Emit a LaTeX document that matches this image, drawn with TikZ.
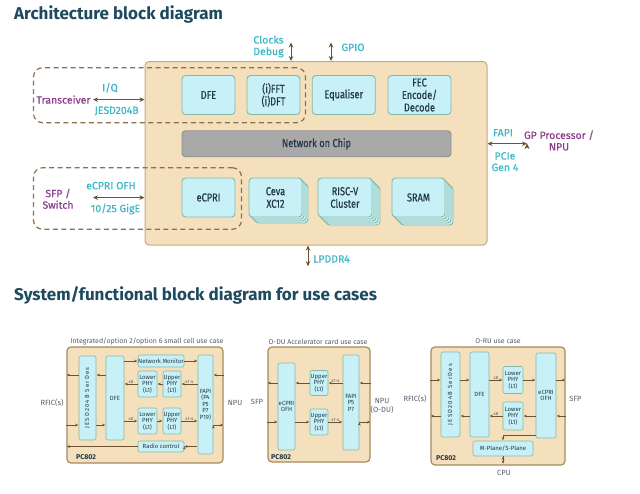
\documentclass[tikz,border=0pt]{standalone}
\usepackage{fontspec}
\setmainfont{Fira Sans}
\newfontfamily\condfont{Fira Sans}[FakeStretch=0.8,FakeBold=0.6]
\newfontfamily\labfont{Fira Sans}[FakeBold=0.5]
\newfontfamily\spacedfont{Fira Sans}[LetterSpace=20]
\usetikzlibrary{arrows.meta}
\usetikzlibrary{calc}
\usetikzlibrary{positioning}

\definecolor{titlec}{HTML}{1E4A5F}
\definecolor{tanfill}{HTML}{F4E0BD}
\definecolor{tandraw}{HTML}{C4AA80}
\definecolor{casedraw}{HTML}{A68A5E}
\definecolor{cyfill}{HTML}{C7F1F6}
\definecolor{cydraw}{HTML}{86B8A4}
\definecolor{labcyan}{HTML}{3DB7C8}
\definecolor{labpurp}{HTML}{8A3E8E}
\definecolor{arrc}{HTML}{6B5232}
\definecolor{dashc}{HTML}{8C7048}
\definecolor{nocfill}{HTML}{A9A9A9}
\definecolor{nocdraw}{HTML}{8E8E8E}
\definecolor{boxtxt}{HTML}{23384A}
\definecolor{greytxt}{HTML}{55606A}

\begin{document}
\begin{tikzpicture}[x=1pt,y=-1pt,>={Stealth[length=5pt,width=4.5pt]}]
\tikzstyle{chipbox}=[draw=tandraw,fill=tanfill,rounded corners=4pt,line width=1pt,inner sep=0pt]
\tikzstyle{grp}=[draw=dashc,dash pattern=on 5pt off 3.5pt,rounded corners=9pt,line width=1.2pt,inner sep=0pt]
\tikzstyle{blk}=[draw=cydraw,fill=cyfill,rounded corners=3.5pt,line width=0.9pt,inner sep=0pt,align=center,text=boxtxt,font=\condfont\fontsize{11.5}{12.5}\selectfont]
\tikzstyle{nocbox}=[blk,draw=nocdraw,fill=nocfill]
\tikzstyle{cyanlab}=[text=labcyan,align=center,inner sep=0pt,font=\labfont\fontsize{10.5}{11.5}\selectfont]
\tikzstyle{purplab}=[cyanlab,text=labpurp]
\tikzstyle{io}=[<->,draw=arrc,line width=1pt]
\tikzstyle{heading}=[anchor=base west,inner sep=0pt,text=titlec,font=\bfseries\fontsize{17}{20}\selectfont]
\tikzstyle{casebox}=[draw=casedraw,fill=tanfill,rounded corners=4pt,line width=1.2pt,inner sep=0pt]
\tikzstyle{sblk}=[blk,rounded corners=2pt,line width=0.6pt,font=\fontsize{6}{6.5}\selectfont]
\tikzstyle{sa}=[-{Stealth[length=3pt,width=2.6pt]},draw=arrc,line width=0.6pt,shorten >=0.5pt]
\tikzstyle{slab}=[text=greytxt,align=center,inner sep=0pt,font=\fontsize{7.5}{9.5}\selectfont]
\tikzstyle{caplab}=[slab,font=\fontsize{7}{9}\selectfont]
\tikzstyle{mult}=[text=greytxt,inner sep=0.6pt,font=\fontsize{4.5}{5}\selectfont]
\tikzstyle{pclab}=[anchor=west,inner sep=0pt,text=boxtxt,font=\bfseries\fontsize{7}{8}\selectfont]
\tikzstyle{rottxt}=[rotate=90,inner sep=0pt,text=boxtxt,font=\spacedfont\fontsize{6}{6}\selectfont]

\useasboundingbox (0,0) rectangle (640,494);
\fill[white] (0,0) rectangle (640,494);

% architecture block diagram
\node[heading] (title1) at (14,19.5) {Architecture block diagram};
\node[chipbox,minimum width=342,minimum height=183.5] (chip) at (316,153.3) {};
\node[grp,minimum width=272,minimum height=55] (grpRF) at (169.5,95.2) {};
\node[grp,minimum width=208,minimum height=61.5] (grpFH) at (137.5,198.5) {};

\node[blk,minimum width=53,minimum height=39] (dfe) at (208.5,95) {DFE};
\node[blk,minimum width=53,minimum height=39] (fft) at (273.5,95) {(i)FFT\\(i)DFT};
\node[blk,minimum width=63,minimum height=39] (eq) at (343.75,95) {Equaliser};
\node[blk,minimum width=63,minimum height=39] (fec) at (419.5,95) {FEC\\Encode/\\Decode};
\node[nocbox,minimum width=269,minimum height=26] (noc) at (316.5,143.8) {Network on Chip};
\node[blk,minimum width=53,minimum height=39] (ecpri) at (208.5,197.5) {eCPRI};
\foreach \o in {6,4,2}
  \node[blk,minimum width=53,minimum height=39] (ceva\o) at (275.5+\o,197.5+\o) {};
\node[blk,minimum width=53,minimum height=39] (ceva) at (275.5,197.5) {Ceva\\XC12};
\foreach \o in {8,6,4,2}
  \node[blk,minimum width=54,minimum height=39] (riscv\o) at (345+\o,197.5+\o) {};
\node[blk,minimum width=54,minimum height=39] (riscv) at (345,197.5) {RISC-V\\Cluster};
\foreach \o in {8,6,4,2}
  \node[blk,minimum width=53,minimum height=39] (sram\o) at (418.5+\o,197.5+\o) {};
\node[blk,minimum width=53,minimum height=39] (sram) at (418.5,197.5) {SRAM};

\node[purplab] (trx) at (63.5,99.6) {Transceiver};
\node[cyanlab] (iq) at (110,87.6) {I/Q};
\node[cyanlab] (jesd) at (116.7,111) {JESD204B};
\node[purplab] (sfp) at (58,198.8) {SFP /\\Switch};
\node[cyanlab] (ofh) at (111,185.7) {eCPRI OFH};
\node[cyanlab] (gige) at (115.5,209) {10/25 GigE};
\node[cyanlab] (clk) at (268.5,46.5) {Clocks\\Debug};
\node[cyanlab] (gpio) at (353,47.4) {GPIO};
\node[cyanlab] (ddr) at (331.5,258.9) {LPDDR4};
\node[cyanlab] (fapi) at (503,132.7) {FAPI};
\node[cyanlab] (pcie) at (505,161.7) {PCIe\\Gen 4};
\node[purplab] (host) at (559,140.5) {GP Processor /\\NPU};

\coordinate (trxEnd) at (93,99.6);
\coordinate (sfpEnd) at (93,197.6);
\coordinate (clkEnd) at (291,42.5);
\coordinate (gpioEnd) at (331,42.5);
\coordinate (ddrEnd) at (308,266.2);
\coordinate (hostEnd) at (527,143.7);
\path[io]
  (trxEnd) edge (chip.west |- trxEnd)
  (sfpEnd) edge (chip.west |- sfpEnd)
  (clkEnd) edge (chip.north -| clkEnd)
  (gpioEnd) edge (chip.north -| gpioEnd)
  (ddrEnd) edge (chip.south -| ddrEnd)
  (hostEnd) edge (chip.east |- hostEnd);

% use cases
\node[heading] (title2) at (14,300.5) {System/functional block diagram for use cases};

% integrated small cell
\node[caplab] (capA) at (147,341.5) {Integrated/option 2/option 6 small cell use case};
\node[casebox,minimum width=156,minimum height=116] (boxA) at (145,405) {};
\node[sblk,minimum width=17,minimum height=84] (jesdA) at (87.5,398) {};
\node[rottxt] (jesdAtxt) at (jesdA) {JESD204B SerDes};
\node[sblk,minimum width=18,minimum height=84] (dfeA) at (115,398) {DFE};
\node[sblk,minimum width=46,minimum height=12] (nmA) at (161,361) {Network Monitor};
\node[sblk,minimum width=19,minimum height=26] (lpA1) at (147.5,384) {Lower\\PHY\\(L1)};
\node[sblk,minimum width=18,minimum height=26] (upA1) at (172,384) {Upper\\PHY\\(L1)};
\node[sblk,minimum width=19,minimum height=26] (lpA2) at (147.5,421) {Lower\\PHY\\(L1)};
\node[sblk,minimum width=18,minimum height=26] (upA2) at (172,421) {Upper\\PHY\\(L1)};
\node[sblk,minimum width=46,minimum height=11] (rcA) at (161,446.5) {Radio control};
\node[sblk,minimum width=15,minimum height=99] (fapiA) at (205.5,404.5) {FAPI\\(P4\\P5\\P7\\P19)};
\node[pclab] (pcA) at (76,457.5) {PC802};
\node[slab] (rficA) at (52,403) {RFIC(s)};
\node[slab] (npuA) at (235,403) {NPU};
\coordinate (aT) at (0,375);
\coordinate (aB) at (0,425);
\path[sa]
  (jesdA.west |- aT) edge (boxA.west |- aT)
  (dfeA.west |- aT) edge (jesdA.east |- aT)
  (boxA.west |- aB) edge (jesdA.west |- aB)
  (jesdA.east |- aB) edge (dfeA.west |- aB)
  (dfeA.east |- nmA) edge (nmA.west)
  (nmA.east) edge (fapiA.west |- nmA)
  (lpA1.west) edge node[mult,above] {x8} (dfeA.east |- lpA1)
  (upA1.west) edge (lpA1.east)
  (fapiA.west |- upA1) edge node[mult,above] {x1-4} (upA1.east)
  (dfeA.east |- lpA2) edge node[mult,above] {x8} (lpA2.west)
  (lpA2.east) edge (upA2.west)
  (upA2.east) edge node[mult,above] {x1-4} (fapiA.west |- upA2)
  (rcA.west) edge (boxA.west |- rcA)
  (boxA.east |- aT) edge (fapiA.east |- aT)
  (fapiA.east |- aB) edge (boxA.east |- aB);
\path[sa,{Stealth[length=3pt,width=2.6pt]}-] (rcA.east) edge (fapiA.west |- rcA);

% O-DU accelerator card
\node[caplab] (capB) at (318,341.5) {O-DU Accelerator card use case};
\node[casebox,minimum width=102,minimum height=115] (boxB) at (319,404.5) {};
\node[sblk,minimum width=17,minimum height=87] (ecpriB) at (286.5,406.5) {eCPRI\\OFH};
\node[sblk,minimum width=18,minimum height=25] (upB1) at (319,383) {Upper\\PHY\\(L1)};
\node[sblk,minimum width=18,minimum height=26] (upB2) at (319,422) {Upper\\PHY\\(L1)};
\node[sblk,minimum width=16,minimum height=95] (fapiB) at (351,402.5) {FAPI\\P5\\P7};
\node[pclab] (pcB) at (271,457.5) {PC802};
\node[slab] (sfpB) at (257,402) {SFP};
\node[slab] (npuB) at (382,406) {NPU\\(O-DU)};
\path[sa]
  (boxB.east |- upB1) edge (fapiB.east |- upB1)
  (fapiB.west |- upB1) edge node[mult,above] {x1-4} (upB1.east)
  (upB1.west) edge (ecpriB.east |- upB1)
  (ecpriB.west |- upB1) edge (boxB.west |- upB1)
  (boxB.west |- upB2) edge (ecpriB.west |- upB2)
  (ecpriB.east |- upB2) edge (upB2.west)
  (upB2.east) edge node[mult,above] {x1-4} (fapiB.west |- upB2)
  (fapiB.east |- upB2) edge (boxB.east |- upB2);

% O-RU
\node[caplab] (capC) at (498,341.5) {O-RU use case};
\node[casebox,minimum width=134,minimum height=118] (boxC) at (498,406) {};
\node[sblk,minimum width=19,minimum height=85] (jesdC) at (450.5,394.5) {};
\node[rottxt] (jesdCtxt) at (jesdC) {JESD204B SerDes};
\node[sblk,minimum width=19,minimum height=85] (dfeC) at (479.5,394.5) {DFE};
\node[sblk,minimum width=20,minimum height=27] (lpC1) at (513,380) {Lower\\PHY\\(L1)};
\node[sblk,minimum width=20,minimum height=28] (lpC2) at (513,416) {Lower\\PHY\\(L1)};
\node[sblk,minimum width=20,minimum height=85] (ecpriC) at (546,395.5) {eCPRI\\OFH};
\node[sblk,minimum width=60,minimum height=15] (mpC) at (503,448.5) {M-Plane/S-Plane};
\node[pclab] (pcC) at (436,458.5) {PC802};
\node[slab] (rficC) at (415,399) {RFIC(s)};
\node[slab] (sfpC) at (575.5,399) {SFP};
\node[slab] (cpuC) at (504,473) {CPU};
\coordinate (mgmt) at (0,435);
\path[sa]
  (boxC.west |- lpC1) edge (jesdC.west |- lpC1)
  (jesdC.east |- lpC1) edge (dfeC.west |- lpC1)
  (dfeC.east |- lpC1) edge node[mult,above] {x8} (lpC1.west)
  (lpC1.east) edge (ecpriC.west |- lpC1)
  (ecpriC.east |- lpC1) edge (boxC.east |- lpC1)
  (boxC.east |- lpC2) edge (ecpriC.east |- lpC2)
  (ecpriC.west |- lpC2) edge (lpC2.east)
  (lpC2.west) edge node[mult,above] {x8} (dfeC.east |- lpC2)
  (dfeC.west |- lpC2) edge (jesdC.east |- lpC2)
  (jesdC.west |- lpC2) edge (boxC.west |- lpC2)
  (mpC.south) edge[shorten >=2pt] (mpC.south |- boxC.south);
\draw[sa] (ecpriC.west |- mgmt) -| (mpC.north);
\end{tikzpicture}
\end{document}
